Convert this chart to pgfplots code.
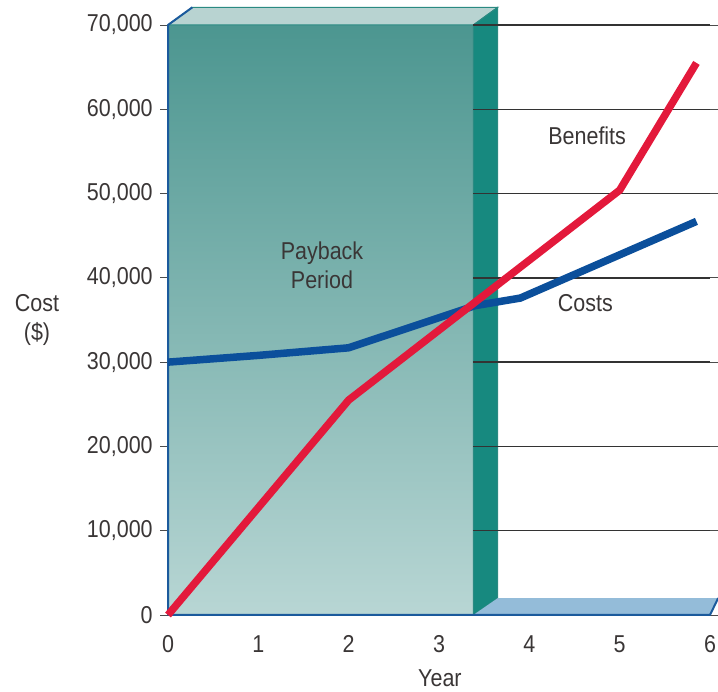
\documentclass[border=0pt]{standalone}
\usepackage{fontspec}
\setmainfont{Liberation Sans}[FakeStretch=0.88]
\usepackage{pgfplots}
\pgfplotsset{compat=1.18}
\definecolor{txt}{HTML}{3A3636}
\definecolor{frontTop}{HTML}{4C9690}
\definecolor{frontBot}{HTML}{B8D6D4}
\definecolor{sideface}{HTML}{17897F}
\definecolor{topface}{HTML}{B8D3D1}
\definecolor{edge}{HTML}{2A8A82}
\definecolor{floorc}{HTML}{94BCD9}
\definecolor{blueline}{HTML}{1B5A9C}
\definecolor{costc}{HTML}{0B4F9B}
\definecolor{benc}{HTML}{E3193B}
\definecolor{gridc}{HTML}{333333}
\begin{document}
\fontsize{24.5}{29}\selectfont
\begin{tikzpicture}
\begin{axis}[name=ax, scale only axis, width=542bp, height=590bp,
  xmin=0, xmax=6, ymin=0, ymax=70000, clip=false,
  axis line style={draw=none},
  xtick={0,...,6}, ytick={0,10000,...,70000}, scaled y ticks=false,
  tick align=outside, major tick length=8bp,
  xtick style={draw=none}, ytick style={draw=gray!60!black, line width=0.8bp},
  tick label style={font=\fontsize{24.5}{29}\selectfont, text=txt},
  xticklabel style={yshift=-4bp},
  yticklabel style={xshift=1bp},
  /pgf/number format/1000 sep={,},
  /pgf/number format/assume math mode=true]
\fill[top color=frontTop, bottom color=frontBot] (axis cs:0,0) rectangle (axis cs:3.38,70000);
\draw[edge, line width=1bp] (axis cs:3.38,0) -- (axis cs:3.38,70000);
\filldraw[fill=topface, draw=edge, line width=1bp] (axis cs:0,70000) -- (axis cs:0.27,72100) -- (axis cs:3.65,72100) -- (axis cs:3.38,70000) -- cycle;
\filldraw[fill=sideface, draw=edge, line width=1bp] (axis cs:3.38,0) -- (axis cs:3.65,2000) -- (axis cs:3.65,72100) -- (axis cs:3.38,70000) -- cycle;
\fill[floorc] (axis cs:3.38,0) -- (axis cs:3.65,2000) -- (axis cs:6.09,2000) -- (axis cs:6,0) -- cycle;
\draw[blueline, line width=2bp, line join=round] (axis cs:0.27,72100) -- (axis cs:0,70000) -- (axis cs:0,0) -- (axis cs:6,0) -- (axis cs:6.09,2000);
\pgfplotsinvokeforeach{10000,20000,30000,40000,50000,60000,70000}{
  \draw[gridc, line width=1.3bp] (axis cs:3.38,#1) -- (axis cs:6,#1);
}
\addplot[costc, line width=7.5bp, line join=round, line cap=butt] coordinates {(0,30000) (1,30800) (2,31700) (3.4,36700) (3.9,37600) (5.85,46700)};
\addplot[benc, line width=7.5bp, line join=round, line cap=butt] coordinates {(0,0) (2,25500) (5,50400) (5.85,65500)};
\node[txt, align=center] at (axis cs:1.705,41500) {Payback\\Period};
\node[txt] at (axis cs:4.64,56900) {Benefits};
\node[txt] at (axis cs:4.62,37000) {Costs};
\node[txt] at (axis cs:3.01,-7500) {Year};
\node[txt, align=center] at (axis cs:-1.45,35000) {Cost\\(\$)};
\end{axis}
\pgfresetboundingbox
\path ([xshift=-168bp,yshift=-77bp]ax.south west) rectangle ([xshift=8bp,yshift=25bp]ax.north east);
\end{tikzpicture}
\end{document}
